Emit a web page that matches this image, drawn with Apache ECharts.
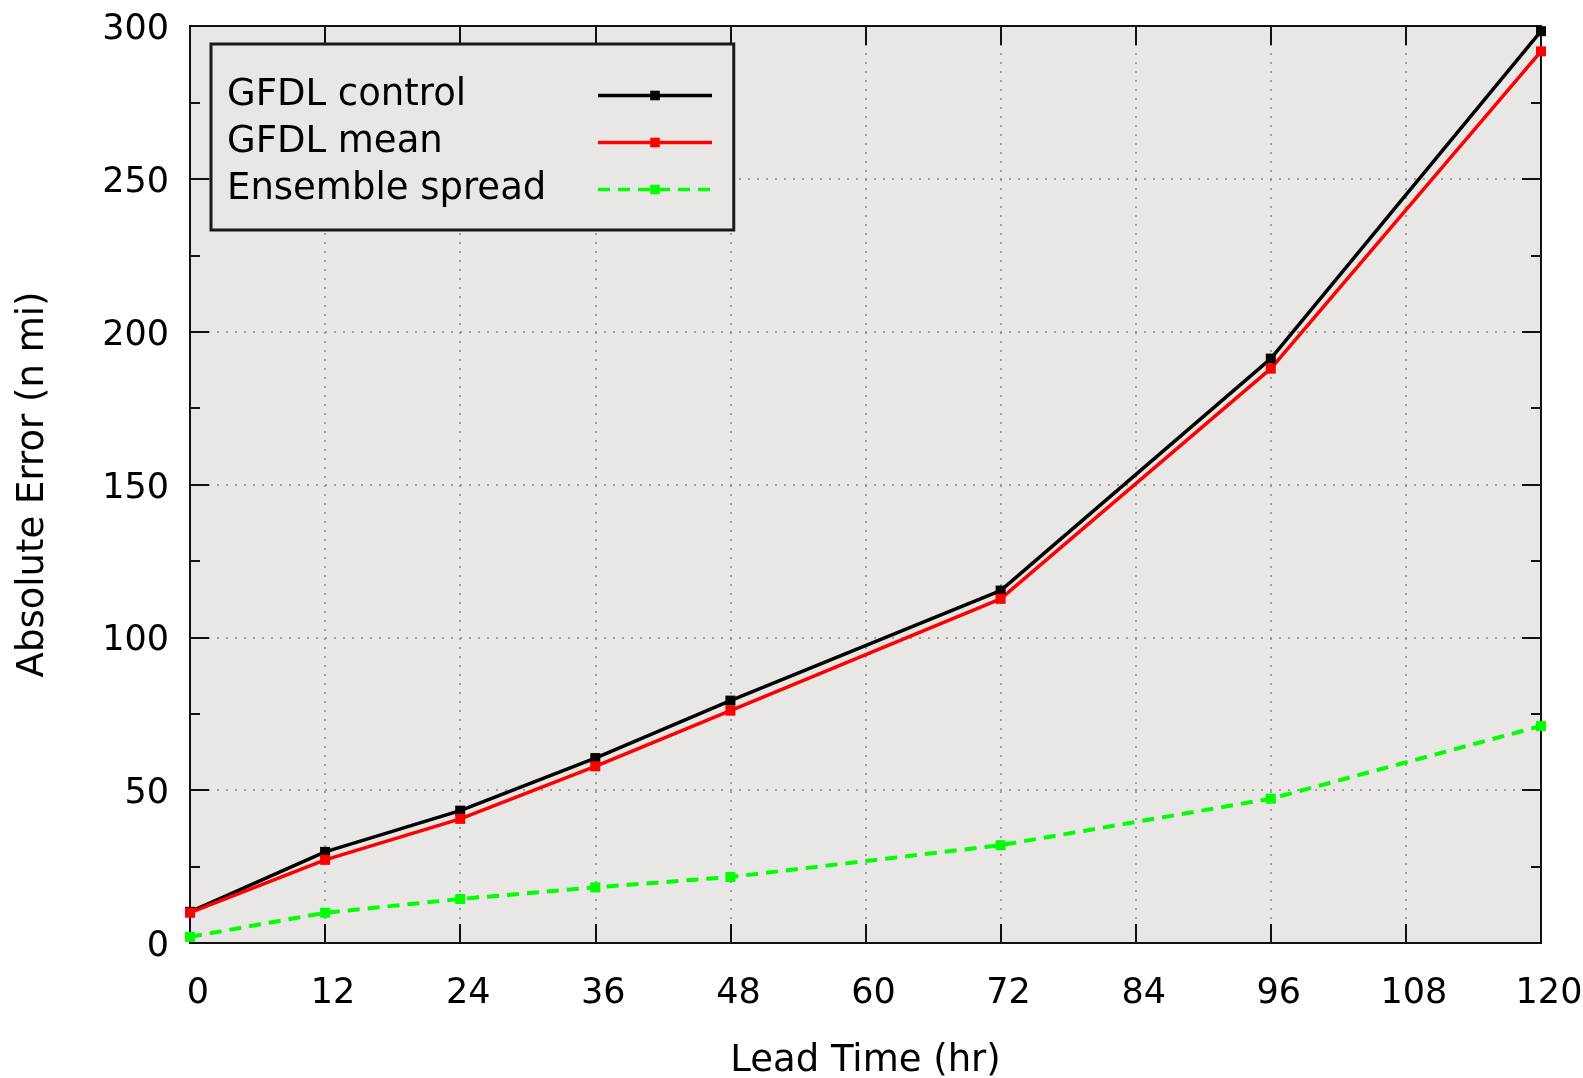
<!DOCTYPE html>
<html>
<head>
<meta charset="utf-8">
<script src="https://cdn.jsdelivr.net/npm/echarts@6/dist/echarts.min.js"></script>
<style>
html,body{margin:0;padding:0;background:#fff;}
#chart{width:1583px;height:1078px;}
</style>
</head>
<body>
<div id="chart"></div>
<script>
var leadTimes = [0, 12, 24, 36, 48, 72, 96, 120];
var gfdlControl = [10.2, 29.8, 43.3, 60.5, 79.3, 115.3, 191.2, 298.3];
var gfdlMean = [9.9, 27.2, 40.6, 57.8, 76.0, 112.6, 187.9, 291.7];
var ensembleSpread = [2.0, 9.9, 14.4, 18.2, 21.6, 32.0, 47.2, 71.0];
var seriesNames = ['GFDL control', 'GFDL mean', 'Ensemble spread'];

function pairs(xs, ys) { return xs.map(function (x, i) { return [x, ys[i]]; }); }

var FONT = 'DejaVu Sans';
var chart = echarts.init(document.getElementById('chart'));

var option = {
  animation: false,
  backgroundColor: '#ffffff',
  grid: {
    left: 190, right: 42, top: 26, bottom: 135,
    outerBoundsMode: 'none', containLabel: false,
    show: true, backgroundColor: '#e8e7e5', borderColor: '#111', borderWidth: 2
  },
  legend: {
    orient: 'vertical',
    left: 211, top: 44,
    align: 'right',
    padding: [33, 20, 22, 16],
    itemWidth: 114, itemHeight: 12, itemGap: 10,
    backgroundColor: '#e8e7e5',
    borderColor: '#1a1a1a', borderWidth: 3, borderRadius: 0,
    lineStyle: { width: 3.5 },
    data: seriesNames,
    formatter: '{n|{name}}',
    textStyle: {
      rich: {
        n: { width: 366, align: 'left', fontSize: 37, fontFamily: FONT, color: '#000' }
      }
    }
  },
  xAxis: [{
    type: 'value', min: 0, max: 120, interval: 12, position: 'bottom',
    name: 'Lead Time (hr)', nameLocation: 'middle', nameGap: 100,
    nameTextStyle: { fontFamily: FONT, fontSize: 37, color: '#000' },
    axisLine: { show: true, onZero: false, lineStyle: { color: '#111', width: 2 } },
    axisTick: { show: true, inside: true, length: 19, lineStyle: { color: '#111', width: 2 } },
    axisLabel: { fontFamily: FONT, fontSize: 35, color: '#000', margin: 33, padding: [0, 0, 0, 16] },
    splitLine: { show: true, lineStyle: { color: '#8a8a8a', width: 1.5, type: [2, 7] } }
  }, {
    type: 'value', min: 0, max: 120, interval: 12, position: 'top',
    axisLine: { show: true, onZero: false, lineStyle: { color: '#111', width: 2 } },
    axisTick: { show: true, inside: true, length: 19, lineStyle: { color: '#111', width: 2 } },
    axisLabel: { show: false },
    splitLine: { show: false }
  }],
  yAxis: [{
    type: 'value', min: 0, max: 300, interval: 50, position: 'left',
    name: 'Absolute Error (n mi)', nameLocation: 'middle', nameGap: 138,
    nameTextStyle: { fontFamily: FONT, fontSize: 37, color: '#000' },
    axisLine: { show: true, onZero: false, lineStyle: { color: '#111', width: 2 } },
    axisTick: { show: true, inside: true, length: 19, lineStyle: { color: '#111', width: 2 } },
    minorTick: { show: true, splitNumber: 2, length: 10, lineStyle: { color: '#111', width: 2 } },
    axisLabel: {
      fontFamily: FONT, fontSize: 35, color: '#000', margin: 21,
      formatter: '{v|{value}}',
      rich: { v: { fontFamily: FONT, fontSize: 35, color: '#000', padding: [8, 0, 0, 0] } }
    },
    splitLine: { show: true, lineStyle: { color: '#8a8a8a', width: 1.5, type: [2, 7] } }
  }, {
    type: 'value', min: 0, max: 300, interval: 50, position: 'right',
    axisLine: { show: true, onZero: false, lineStyle: { color: '#111', width: 2 } },
    axisTick: { show: true, inside: true, length: 19, lineStyle: { color: '#111', width: 2 } },
    minorTick: { show: true, splitNumber: 2, length: 10, lineStyle: { color: '#111', width: 2 } },
    axisLabel: { show: false },
    splitLine: { show: false }
  }],
  series: [{
    name: seriesNames[0], type: 'line', xAxisIndex: 0, yAxisIndex: 0,
    data: pairs(leadTimes, gfdlControl),
    symbol: 'rect', symbolSize: 10, showAllSymbol: true,
    lineStyle: { color: '#000', width: 3.5 },
    itemStyle: { color: '#000' }
  }, {
    name: seriesNames[1], type: 'line', xAxisIndex: 0, yAxisIndex: 0,
    data: pairs(leadTimes, gfdlMean),
    symbol: 'rect', symbolSize: 10, showAllSymbol: true,
    lineStyle: { color: '#ff0000', width: 3.5 },
    itemStyle: { color: '#ff0000' }
  }, {
    name: seriesNames[2], type: 'line', xAxisIndex: 0, yAxisIndex: 0,
    data: pairs(leadTimes, ensembleSpread),
    symbol: 'rect', symbolSize: 10, showAllSymbol: true,
    lineStyle: { color: '#00ff00', width: 4, type: [12, 8] },
    itemStyle: { color: '#00ff00' }
  }]
};
chart.setOption(option);
</script>
</body>
</html>
